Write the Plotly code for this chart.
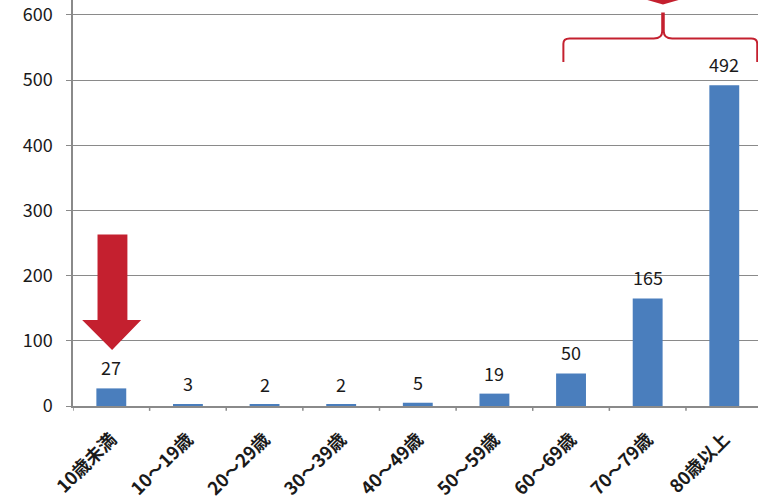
import plotly.graph_objects as go

categories = ["10歳未満", "10～19歳", "20～29歳", "30～39歳", "40～49歳",
              "50～59歳", "60～69歳", "70～79歳", "80歳以上"]
values = [27, 3, 2, 2, 5, 19, 50, 165, 492]
y_ticks = [0, 100, 200, 300, 400, 500, 600]

FONT = "Noto Sans CJK JP"
RED = "#c4202f"
BLUE = "#4a7ebd"
TXT = "#1a1a1a"

fig = go.Figure()
fig.add_trace(go.Bar(
    x=list(range(len(categories))), y=values, width=0.39,
    marker=dict(color=BLUE, line=dict(width=0)),
    hoverinfo="skip",
))

for i, v in enumerate(values):
    fig.add_annotation(x=i, y=v, text=str(v), showarrow=False, yshift=21,
                       font=dict(family=FONT, size=18, color=TXT))

# big red down arrow over first category
fig.add_shape(type="path", xref="x", yref="y",
              path="M -0.18,263 L 0.21,263 L 0.21,132 L 0.39,132 L 0.01,86 L -0.38,132 L -0.18,132 Z",
              fillcolor=RED, line=dict(width=0), layer="above")

# top arrow tip (clipped)
fig.add_shape(type="path", xref="x", yref="y",
              path="M 7.02,660 L 7.38,660 L 7.38,628 L 7.55,628 L 7.2,616 L 6.85,628 L 7.02,628 Z",
              fillcolor=RED, line=dict(width=0), layer="above")

# curly brace
fig.add_shape(type="path", xref="x", yref="y",
              path=("M 5.9,528 L 5.9,556 Q 5.9,564 5.98,564 L 7.08,564 "
                    "Q 7.19,564 7.19,575 L 7.19,604 "
                    "M 7.21,604 L 7.21,575 Q 7.21,564 7.32,564 L 8.35,564 "
                    "Q 8.43,564 8.43,556 L 8.43,528"),
              line=dict(color=RED, width=2), layer="above")

fig.update_layout(
    width=758, height=503,
    margin=dict(l=73, r=0, t=0, b=97),
    paper_bgcolor="white", plot_bgcolor="white",
    showlegend=False, bargap=0.6,
    font=dict(family=FONT, size=18, color=TXT),
)
fig.update_xaxes(
    range=[-0.5, 8.44],
    tickmode="array", tickvals=list(range(len(categories))), ticktext=categories,
    tickangle=-45, tickfont=dict(family=FONT, size=18, color=TXT, weight=600),
    showline=True, linecolor="#8a8a8a", linewidth=1.5,
    ticks="", showgrid=False, zeroline=False, ticklabelstandoff=14,
)
fig.update_yaxes(
    range=[0, 623], tickmode="array", tickvals=y_ticks,
    tickfont=dict(family=FONT, size=18, color=TXT),
    showline=True, linecolor="#8a8a8a", linewidth=1.5,
    ticks="outside", ticklen=5, tickcolor="#8a8a8a",
    showgrid=True, gridcolor="#8a8a8a", gridwidth=1.2, zeroline=False,
    ticklabelstandoff=10,
)
# tick marks at category boundaries below x axis
for b in range(len(categories) + 1):
    fig.add_shape(type="line", xref="x", yref="paper", x0=b - 0.5, x1=b - 0.5,
                  y0=0, y1=-0.012, line=dict(color="#8a8a8a", width=1.5))

fig.write_html("out.html")
